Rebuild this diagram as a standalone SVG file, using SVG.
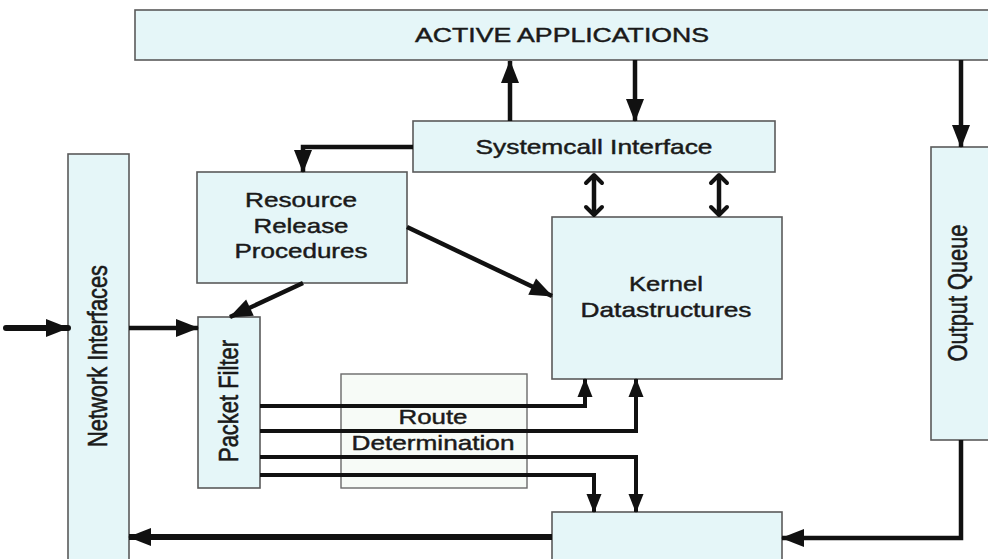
<svg xmlns="http://www.w3.org/2000/svg" width="988" height="559" viewBox="0 0 988 559">
<style>
.box{fill:#e5f6f8;stroke:#5a5a5a;stroke-width:1.6}
.plain{fill:#f7fbf7;stroke:#6a6a6a;stroke-width:1.4}
text{font-family:"Liberation Sans",Arial,sans-serif;font-size:21px;fill:#1a1a1a;stroke:#1a1a1a;stroke-width:0.45}
.c{text-anchor:middle}
.ln{fill:none;stroke:#111;stroke-width:4.5;stroke-linejoin:miter}
.thin{stroke-width:4}
.thick{stroke-width:6}
</style>
<defs>
<marker id="ah" markerUnits="userSpaceOnUse" markerWidth="24" markerHeight="20" refX="22" refY="9" orient="auto" overflow="visible">
<path d="M0,0 L23,9 L0,18 z" fill="#111"/>
</marker>
<marker id="ahs" markerUnits="userSpaceOnUse" markerWidth="20" markerHeight="16" refX="18" refY="7.5" orient="auto" overflow="visible">
<path d="M0,0 L19,7.5 L0,15 z" fill="#111"/>
</marker>
<marker id="ch" markerUnits="userSpaceOnUse" markerWidth="14" markerHeight="18" refX="9" refY="8" orient="auto-start-reverse" overflow="visible">
<path d="M1,0 L9,8 L1,16" fill="none" stroke="#111" stroke-width="4" stroke-linecap="round" stroke-linejoin="round"/>
</marker>
</defs>
<rect width="988" height="559" fill="#ffffff"/>
<g id="active-applications">
<rect class="box" x="135" y="10" width="860" height="50"/>
<text class="c" x="562" y="42" textLength="294" lengthAdjust="spacingAndGlyphs">ACTIVE APPLICATIONS</text>
</g>
<g id="systemcall-interface">
<rect class="box" x="413" y="121" width="362" height="51"/>
<text class="c" x="594" y="154" textLength="237" lengthAdjust="spacingAndGlyphs">Systemcall Interface</text>
</g>
<g id="resource-release">
<rect class="box" x="197" y="172" width="210" height="111"/>
<text class="c" x="301" y="207" textLength="112" lengthAdjust="spacingAndGlyphs">Resource</text>
<text class="c" x="301" y="233" textLength="95" lengthAdjust="spacingAndGlyphs">Release</text>
<text class="c" x="301" y="258" textLength="133" lengthAdjust="spacingAndGlyphs">Procedures</text>
</g>
<g id="kernel-datastructures">
<rect class="box" x="552" y="217" width="230" height="162"/>
<text class="c" x="666" y="291" textLength="74" lengthAdjust="spacingAndGlyphs">Kernel</text>
<text class="c" x="666" y="317" textLength="171" lengthAdjust="spacingAndGlyphs">Datastructures</text>
</g>
<g id="network-interfaces">
<rect class="box" x="68" y="154" width="61" height="412"/>
<text class="c" transform="translate(107,356) scale(1.3,1) rotate(-90)" x="0" y="0" textLength="182" lengthAdjust="spacingAndGlyphs">Network Interfaces</text>
</g>
<g id="packet-filter">
<rect class="box" x="198" y="317" width="62" height="171"/>
<text class="c" transform="translate(238,401) scale(1.3,1) rotate(-90)" x="0" y="0" textLength="122" lengthAdjust="spacingAndGlyphs">Packet Filter</text>
</g>
<g id="route-determination">
<rect class="plain" x="341" y="374" width="186" height="114"/>
<text class="c" x="433" y="424" textLength="69" lengthAdjust="spacingAndGlyphs">Route</text>
<text class="c" x="433" y="450" textLength="163" lengthAdjust="spacingAndGlyphs">Determination</text>
</g>
<g id="output-queue">
<rect class="box" x="931" y="147" width="62" height="293"/>
<text class="c" transform="translate(967,293) scale(1.3,1) rotate(-90)" x="0" y="0" textLength="137" lengthAdjust="spacingAndGlyphs">Output Queue</text>
</g>
<g id="bottom-box">
<rect class="box" x="552" y="512" width="230" height="60"/>
</g>
<g id="connectors">
<path class="ln thick" d="M6,328 L68,328" stroke-linecap="round" marker-end="url(#ah)"/>
<path class="ln" d="M129,328 L198,328" marker-end="url(#ah)"/>
<path class="ln" d="M510,121 L510,61" marker-end="url(#ah)"/>
<path class="ln" d="M635,60 L635,121" marker-end="url(#ah)"/>
<path class="ln" d="M961,60 L961,147" marker-end="url(#ah)"/>
<path class="ln" d="M413,147 L303,147 L303,172" marker-end="url(#ah)"/>
<path class="ln" d="M407,227 L552,296" marker-end="url(#ah)"/>
<path class="ln" d="M303,283 L230,317" marker-end="url(#ah)"/>
<path class="ln" d="M594,175 L594,215" marker-start="url(#ch)" marker-end="url(#ch)"/>
<path class="ln" d="M719,175 L719,215" marker-start="url(#ch)" marker-end="url(#ch)"/>
<path class="ln thin" d="M260,406 L585,406 L585,379" marker-end="url(#ahs)"/>
<path class="ln thin" d="M260,431 L636,431 L636,379" marker-end="url(#ahs)"/>
<path class="ln thin" d="M260,457 L636,457 L636,512" marker-end="url(#ahs)"/>
<path class="ln thin" d="M260,475 L594,475 L594,512" marker-end="url(#ahs)"/>
<path class="ln" d="M961,440 L961,538 L782,538" marker-end="url(#ah)"/>
<path class="ln thick" d="M552,537 L129,537" marker-end="url(#ah)"/>
</g>
</svg>
